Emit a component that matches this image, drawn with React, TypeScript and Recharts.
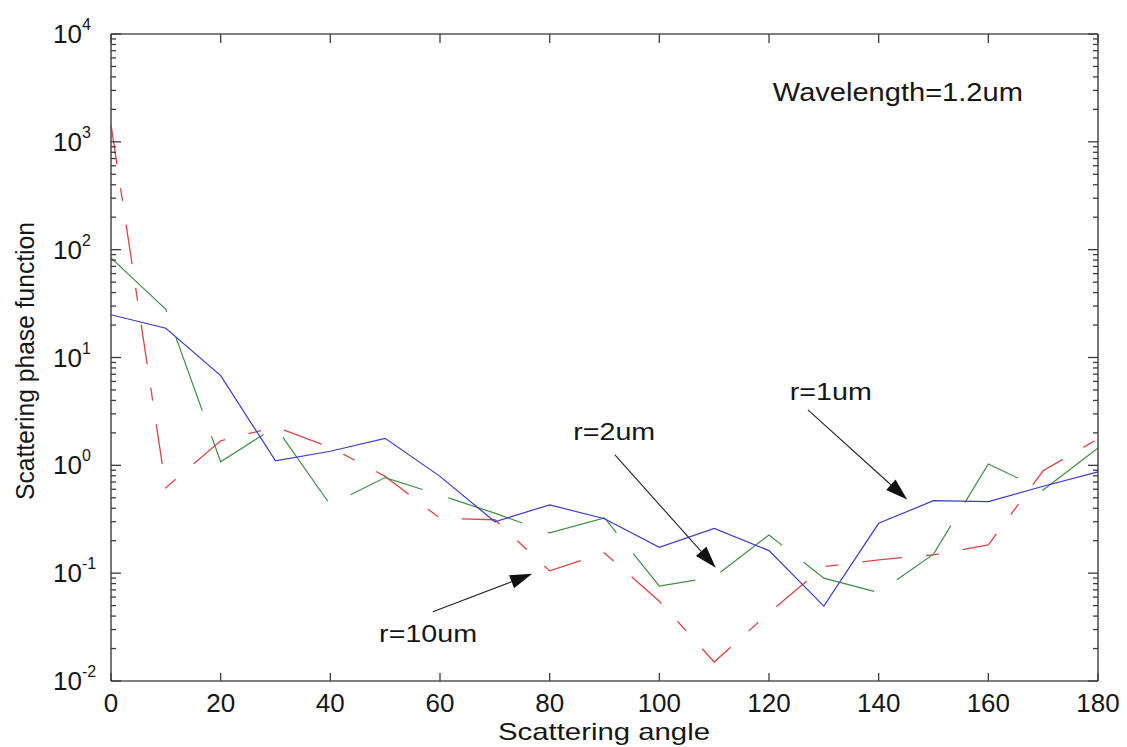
import React from "react";
import { LineChart, Line, XAxis, YAxis, ReferenceLine, ReferenceDot } from "recharts";

// scattering angle (deg) and phase function values
const angles = [0, 10, 20, 30, 40, 50, 60, 70, 80, 90, 100, 110, 120, 130, 140, 150, 160, 170, 180];
const r1um = [24.9, 18.7, 6.8, 1.1, 1.35, 1.78, 0.79, 0.3, 0.43, 0.32, 0.174, 0.26, 0.162, 0.0495, 0.29, 0.47, 0.46, 0.64, 0.87];
const r2um = [84, 28, 1.08, 2.27, 0.43, 0.77, 0.53, 0.36, 0.237, 0.326, 0.076, 0.092, 0.226, 0.09, 0.066, 0.15, 1.03, 0.59, 1.45];
const r10um = [1440, 0.62, 1.69, 2.27, 1.47, 0.79, 0.323, 0.313, 0.105, 0.154, 0.055, 0.015, 0.043, 0.115, 0.133, 0.148, 0.183, 0.89, 1.76];

const xTicks = [0, 20, 40, 60, 80, 100, 120, 140, 160, 180];
const decadeTicks = [0.01, 0.1, 1, 10, 100, 1000, 10000];
const minorSteps = [2, 3, 4, 5, 6, 7, 8, 9];

// annotations, in data coordinates (angle, value)
const titleNote = { text: "Wavelength=1.2um", at: [120.7, 2400] };
const arrowNotes = [
  { text: "r=1um", at: [123.8, 4.06], from: [127.1, 3.27], to: [145.2, 0.482] },
  { text: "r=2um", at: [84.3, 1.73], from: [91.9, 1.25], to: [110.3, 0.112] },
  { text: "r=10um", at: [48.9, 0.0231], from: [58.7, 0.0438], to: [76.8, 0.0986] },
];

const rows = angles.map((angle, i) => ({
  angle,
  r1: r1um[i],
  r2: r2um[i],
  r10: r10um[i],
}));

const logTicks = decadeTicks.flatMap((d, i) =>
  i < decadeTicks.length - 1 ? [d, ...minorSteps.map((m) => m * d)] : [d],
);

const FONT = '"Liberation Sans", Arial, Helvetica, sans-serif';
const AXIS = "#555555";
const TICK = "#3c3c3c";
const INK = "#161616";

function isDecade(v: number) {
  const e = Math.log10(v);
  return Math.abs(e - Math.round(e)) < 1e-6;
}

function LeftTick(props: any) {
  const { x, y, payload } = props;
  const v = payload.value as number;
  const major = isDecade(v);
  const exp = Math.round(Math.log10(v));
  return (
    <g>
      <line x1={x} x2={x + (major ? 10 : 5)} y1={y} y2={y} stroke={TICK} strokeWidth={1.3} />
      {major ? (
        <g fontFamily={FONT} fill={INK}>
          <text x={x - 29} y={y + 9} textAnchor="end" fontSize={26}>
            10
          </text>
          <text x={x - 29} y={y - 4} textAnchor="start" fontSize={16}>
            {String(exp)}
          </text>
        </g>
      ) : null}
    </g>
  );
}

function RightTick(props: any) {
  const { x, y, payload } = props;
  const major = isDecade(payload.value as number);
  return <line x1={x} x2={x - (major ? 10 : 5)} y1={y} y2={y} stroke={TICK} strokeWidth={1.3} />;
}

function TopTick(props: any) {
  const { x, y } = props;
  return <line x1={x} x2={x} y1={y} y2={y + 9} stroke={TICK} strokeWidth={1.3} />;
}

function BottomTick(props: any) {
  const { x, y, payload } = props;
  return (
    <g>
      <line x1={x} x2={x} y1={y} y2={y - 8} stroke={TICK} strokeWidth={1.3} />
      <text x={x} y={y + 31} textAnchor="middle" fontSize={26} fontFamily={FONT} fill={INK}>
        {payload.value}
      </text>
    </g>
  );
}

function ArrowShape(props: any) {
  const { x1, y1, x2, y2 } = props;
  const dx = x2 - x1;
  const dy = y2 - y1;
  const len = Math.hypot(dx, dy) || 1;
  const ux = dx / len;
  const uy = dy / len;
  const head = 22;
  const half = 7;
  const bx = x2 - ux * head;
  const by = y2 - uy * head;
  return (
    <g>
      <line x1={x1} y1={y1} x2={bx} y2={by} stroke="#222" strokeWidth={1.1} />
      <polygon
        points={`${x2},${y2} ${bx - uy * half},${by + ux * half} ${bx + uy * half},${by - ux * half}`}
        fill="#111"
      />
    </g>
  );
}

function noteShape(text: string, size: number, length: number) {
  return (p: any) => (
    <text
      x={p.cx}
      y={p.cy}
      fontSize={size}
      fontFamily={FONT}
      fill={INK}
      textLength={length}
      lengthAdjust="spacingAndGlyphs"
    >
      {text}
    </text>
  );
}

const noteLengths: Record<string, number> = { "r=1um": 82, "r=2um": 82, "r=10um": 98 };

export default function App() {
  return (
    <div style={{ position: "absolute", left: 0, top: 0, width: 1127, height: 747, background: "#fff" }}>
      <LineChart width={1127} height={747} data={rows} margin={{ top: 0, right: 0, bottom: 0, left: 0 }}>
        <XAxis
          xAxisId="top"
          orientation="top"
          dataKey="angle"
          type="number"
          domain={[0, 180]}
          ticks={xTicks}
          interval={0}
          height={34}
          tickSize={0}
          tickMargin={0}
          tickLine={false}
          tick={TopTick}
          axisLine={{ stroke: AXIS, strokeWidth: 1.6 }}
        />
        <XAxis
          xAxisId="bottom"
          orientation="bottom"
          dataKey="angle"
          type="number"
          domain={[0, 180]}
          ticks={xTicks}
          interval={0}
          height={66}
          tickSize={0}
          tickMargin={0}
          tickLine={false}
          tick={BottomTick}
          axisLine={{ stroke: AXIS, strokeWidth: 1.6 }}
        />
        <YAxis
          yAxisId="left"
          orientation="left"
          scale="log"
          domain={[0.01, 10000]}
          allowDataOverflow
          ticks={logTicks}
          interval={0}
          width={111}
          tickSize={0}
          tickMargin={0}
          tickLine={false}
          tick={LeftTick}
          axisLine={{ stroke: AXIS, strokeWidth: 1.6 }}
        />
        <YAxis
          yAxisId="right"
          orientation="right"
          scale="log"
          domain={[0.01, 10000]}
          allowDataOverflow
          ticks={logTicks}
          interval={0}
          width={29}
          tickSize={0}
          tickMargin={0}
          tickLine={false}
          tick={RightTick}
          axisLine={{ stroke: AXIS, strokeWidth: 1.6 }}
        />
        <Line
          xAxisId="bottom"
          yAxisId="left"
          dataKey="r10"
          type="linear"
          stroke="#dc4444"
          strokeWidth={1.3}
          strokeDasharray="40 24 13 24"
          dot={false}
          isAnimationActive={false}
        />
        <Line
          xAxisId="bottom"
          yAxisId="left"
          dataKey="r2"
          type="linear"
          stroke="#3f8f45"
          strokeWidth={1.2}
          strokeDasharray="78 27"
          dot={false}
          isAnimationActive={false}
        />
        <Line
          xAxisId="bottom"
          yAxisId="left"
          dataKey="r1"
          type="linear"
          stroke="#3a3ad0"
          strokeWidth={1.2}
          dot={false}
          isAnimationActive={false}
        />
        <ReferenceDot
          xAxisId="bottom"
          yAxisId="left"
          x={titleNote.at[0]}
          y={titleNote.at[1]}
          ifOverflow="visible"
          shape={noteShape(titleNote.text, 26, 250)}
        />
        {arrowNotes.map((n) => (
          <ReferenceLine
            key={n.text + "-arrow"}
            xAxisId="bottom"
            yAxisId="left"
            ifOverflow="visible"
            segment={[
              { x: n.from[0], y: n.from[1] },
              { x: n.to[0], y: n.to[1] },
            ]}
            shape={ArrowShape}
          />
        ))}
        {arrowNotes.map((n) => (
          <ReferenceDot
            key={n.text}
            xAxisId="bottom"
            yAxisId="left"
            x={n.at[0]}
            y={n.at[1]}
            ifOverflow="visible"
            shape={noteShape(n.text, 23, noteLengths[n.text])}
          />
        ))}
        <text
          x={604}
          y={740}
          textAnchor="middle"
          fontSize={24}
          fontFamily={FONT}
          fill={INK}
          textLength={212}
          lengthAdjust="spacingAndGlyphs"
        >
          Scattering angle
        </text>
        <text
          x={0}
          y={0}
          transform="translate(34 361) rotate(-90)"
          textAnchor="middle"
          fontSize={25}
          fontFamily={FONT}
          fill={INK}
          textLength={278}
          lengthAdjust="spacingAndGlyphs"
        >
          Scattering phase function
        </text>
      </LineChart>
    </div>
  );
}
